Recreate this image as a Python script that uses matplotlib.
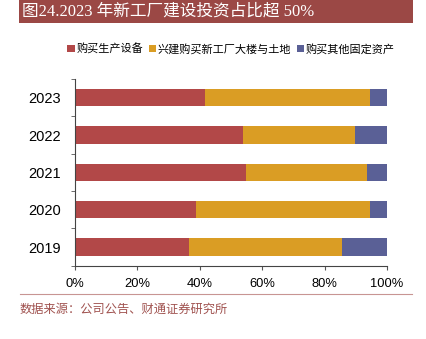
import matplotlib
matplotlib.use("Agg")
import matplotlib.pyplot as plt
from matplotlib.patches import Rectangle, Patch
import numpy as np

plt.rcParams['font.family'] = ['Liberation Sans', 'Noto Sans CJK SC', 'DejaVu Sans']

years = ["2019", "2020", "2021", "2022", "2023"]
equipment = [36.6, 38.7, 54.7, 53.7, 41.7]
new_plant = [49.0, 56.0, 38.8, 35.9, 53.0]
other_assets = [14.4, 5.3, 6.5, 10.4, 5.3]
series_names = ["购买生产设备", "兴建购买新工厂大楼与土地", "购买其他固定资产"]
xtick_labels = ["0%", "20%", "40%", "60%", "80%", "100%"]
title = "图24.2023 年新工厂建设投资占比超 50%"
source = "数据来源：公司公告、财通证券研究所"

colors = ["#B24848", "#DA9D24", "#5A6096"]

fig = plt.figure(figsize=(4.26, 3.39), dpi=100)
ax = fig.add_axes([75/426, 1-265.7/339, 312/426, 186.7/339])

y = np.arange(len(years))
left = np.zeros(len(years))
for vals, c, name in zip([equipment, new_plant, other_assets], colors, series_names):
    ax.barh(y, vals, left=left, height=0.47, color=c, label=name, linewidth=0)
    left = left + np.array(vals)

ax.set_xlim(0, 100)
ax.set_ylim(-0.5, len(years) - 0.5)
ax.set_xticks(np.linspace(0, 100, 6))
ax.set_xticklabels(xtick_labels, fontsize=9.3, family=['Liberation Sans'])
ax.set_yticks(y)
ax.set_yticklabels(years, fontsize=10.5, family=['Liberation Sans'])
ax.set_yticks(np.arange(-0.5, len(years), 1.0), minor=True)
ax.tick_params(axis='y', which='major', length=0, pad=10)
ax.tick_params(axis='y', which='minor', length=3, color='#555555', direction='out')
ax.tick_params(axis='x', which='major', length=3, color='#555555', direction='out', pad=6)
for s in ['top', 'right']:
    ax.spines[s].set_visible(False)
for s in ['left', 'bottom']:
    ax.spines[s].set_color('#444444')
    ax.spines[s].set_linewidth(0.8)

# legend
handles = [Patch(facecolor=c, edgecolor='none') for c in colors]
fig.legend(handles, series_names, loc='center', bbox_to_anchor=(231/426, 1-49/339),
           ncol=3, frameon=False, handlelength=0.65, handleheight=0.65,
           handletextpad=0.15, columnspacing=0.5, borderaxespad=0,
           prop={'family': ['Noto Sans CJK SC'], 'size': 8})

# title banner
fig.patches.append(Rectangle((19.3/426, 1-23.3/339), (413-19.3)/426, 23.3/339,
                             transform=fig.transFigure, facecolor='#9B4845',
                             edgecolor='none', zorder=0))
fig.text(22/426, 1-12/339, title, color='white', fontsize=12, va='center', ha='left',
         family=['Liberation Serif', 'Noto Sans CJK SC'])

# separator line and source
fig.add_artist(plt.Line2D([20/426, 412/426], [1-294.3/339, 1-294.3/339],
                          transform=fig.transFigure, color='#C89593', linewidth=0.8))
fig.text(20/426, 1-309.5/339, source, color='#A0524F', fontsize=8.8, va='center', ha='left',
         family=['Noto Sans CJK SC'])

fig.savefig("out.png", dpi=100)
